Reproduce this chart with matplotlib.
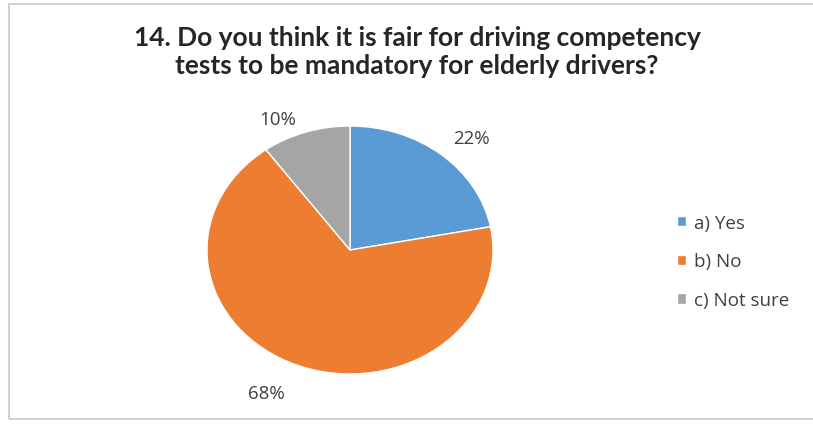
import matplotlib
matplotlib.use('Agg')
import matplotlib.pyplot as plt
import numpy as np
from matplotlib.patches import Rectangle

# survey answers
labels = ['a) Yes', 'b) No', 'c) Not sure']
shares = [22, 68, 10]
colors = ['#5B9BD5', '#ED7D31', '#A5A5A5']
title = '14. Do you think it is fair for driving competency\ntests to be mandatory for elderly drivers?'

# label placement around the pie: (distance, angle shift in degrees)
label_dist = [1.24, 1.29, 1.17]
label_shift = [-3.7, -5.4, 7.5]

plt.rcParams['font.family'] = ['Lato', 'DejaVu Sans']
body_font = ['Open Sans', 'DejaVu Sans']

W, H = 813, 431
fig = plt.figure(figsize=(W / 100, H / 100), dpi=100)

# thin frame of the chart area
fig.patches.append(Rectangle((9 / W, 1 - 420 / H), 1.2, (420 - 5) / H,
                             transform=fig.transFigure, fill=False,
                             edgecolor='#C8C8C8', linewidth=1.2))

cx, cy, rx, ry = 350, 251, 143, 124
ax = fig.add_axes([(cx - rx) / W, 1 - (cy + ry) / H, 2 * rx / W, 2 * ry / H])
wedges, texts, autotexts = ax.pie(shares, colors=colors, startangle=90, counterclock=False,
                                  autopct='%d%%', pctdistance=1.22,
                                  wedgeprops=dict(edgecolor='white', linewidth=1))

# middle angle of each slice, going clockwise from the top
total = float(sum(shares))
mids = 90 - 360 * (np.cumsum(shares) - np.array(shares) / 2) / total
for t, m, d, s in zip(autotexts, mids, label_dist, label_shift):
    ang = np.deg2rad(m + s)
    t.set_position((d * np.cos(ang), d * np.sin(ang)))
    t.set_fontsize(13.5)
    t.set_family(body_font)
    t.set_color('#404040')
ax.set_aspect('auto')
ax.set_xlim(-1, 1)
ax.set_ylim(-1, 1)
ax.axis('off')

fig.text(417 / W, 1 - 52 / H, title, ha='center', va='center', fontsize=19,
         fontweight='bold', color='#262626', linespacing=1.2)

fig.legend(wedges, labels, loc='upper left', bbox_to_anchor=(660 / W, 1 - 198 / H),
           frameon=False, prop={'family': body_font, 'size': 13.5},
           handlelength=0.48, handleheight=0.48, handletextpad=0.45,
           labelspacing=1.1, labelcolor='#404040')

fig.savefig('out.png', dpi=100)
